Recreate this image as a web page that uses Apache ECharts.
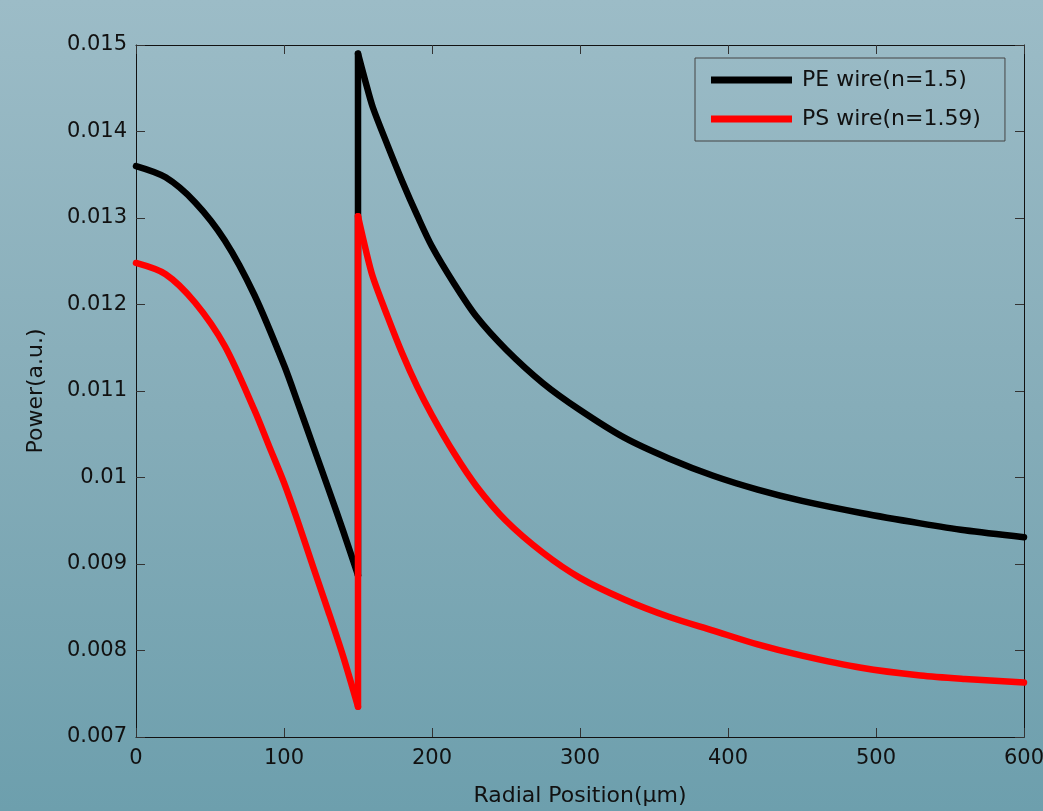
<!DOCTYPE html>
<html>
<head>
<meta charset="utf-8">
<script src="https://cdn.jsdelivr.net/npm/echarts@6/dist/echarts.min.js"></script>
<style>
html,body{margin:0;padding:0;}
#chart{width:1043px;height:811px;background:linear-gradient(to bottom,#9cbcc7 0%,#86adb9 50%,#6d9fad 100%);}
</style>
</head>
<body>
<div id="chart"></div>
<script>
// ---- data ----
const seriesNames = ['PE wire(n=1.5)', 'PS wire(n=1.59)'];
const xTicks = [0, 100, 200, 300, 400, 500, 600];
const yTicks = [0.007, 0.008, 0.009, 0.01, 0.011, 0.012, 0.013, 0.014, 0.015];

const peX = [0,20,40,60,80,100,110,120,130,140,150, 150,155,160,170,180,190,200,215,230,250,275,300,330,360,390,420,450,490,530,560,600];
const peY = [0.01360,0.01347,0.01318,0.01274,0.01211,0.01130,0.01083,0.01035,0.00987,0.00938,0.00887, 0.01490,0.01458,0.01428,0.01384,0.01342,0.01303,0.01267,0.01224,0.01186,0.01148,0.01109,0.01078,0.01046,0.01022,0.01002,0.00986,0.00973,0.00959,0.00947,0.00939,0.00931];

const psX = [0,20,40,60,80,90,100,110,120,130,140,150, 150,155,160,170,180,190,200,215,230,250,275,300,330,360,390,420,450,490,530,560,600];
const psY = [0.01248,0.01235,0.01202,0.01152,0.01078,0.01036,0.00994,0.00946,0.00895,0.00845,0.00793,0.00735, 0.01302,0.01265,0.01232,0.01186,0.01143,0.01105,0.01072,0.01028,0.00990,0.00950,0.00913,0.00884,0.00859,0.00839,0.00823,0.00807,0.00794,0.00780,0.00771,0.00767,0.00763];

// ---- build series: split each curve at the repeated x (the step) ----
function buildSeries(name, xs, ys, color) {
  let cut = 1;
  for (let i = 1; i < xs.length; i++) { if (xs[i] === xs[i - 1]) { cut = i; break; } }
  const pts = xs.map((x, i) => [x, ys[i]]);
  const left = pts.slice(0, cut);
  const jump = [pts[cut - 1], pts[cut]];
  const right = pts.slice(cut);
  const base = {
    name: name, type: 'line', symbol: 'none', showSymbol: false,
    lineStyle: { color: color, width: 6.5, cap: 'round', join: 'round' },
    itemStyle: { color: color },
    emphasis: { disabled: true }, animation: false, z: 3
  };
  return [
    Object.assign({}, base, { data: left, smooth: 0.3 }),
    Object.assign({}, base, { data: jump, smooth: false }),
    Object.assign({}, base, { data: right, smooth: 0.3 })
  ];
}

const FONT = 'DejaVu Sans';
const axisCommon = {
  axisLine: { show: true, onZero: false, lineStyle: { color: '#111', width: 1 } },
  axisTick: { show: true, inside: true, length: 9, lineStyle: { color: '#333', width: 1 } },
  splitLine: { show: false }
};

const chart = echarts.init(document.getElementById('chart'), null, { renderer: 'canvas' });
chart.setOption({
  backgroundColor: 'transparent',
  animation: false,
  grid: { left: 136, right: 19, top: 45, bottom: 74, containLabel: false, outerBoundsMode: 'none' },
  legend: {
    data: seriesNames,
    orient: 'vertical',
    left: 695, top: 58,
    padding: [10, 24, 10, 16],
    itemGap: 15,
    itemWidth: 81, itemHeight: 7,
    icon: 'rect',
    backgroundColor: 'transparent',
    borderColor: '#444', borderWidth: 1, borderRadius: 0,
    textStyle: { fontFamily: FONT, fontSize: 22, color: '#111', lineHeight: 24, padding: [0, 0, 0, 5] },
    selectedMode: false
  },
  xAxis: [
    Object.assign({}, axisCommon, {
      type: 'value', min: 0, max: 600, interval: 100, position: 'bottom',
      name: 'Radial Position(\u03bcm)', nameLocation: 'middle', nameGap: 48,
      nameTextStyle: { fontFamily: FONT, fontSize: 22, color: '#111' },
      axisLabel: { show: true, margin: 11, fontFamily: FONT, fontSize: 21, color: '#111',
        formatter: v => (xTicks.indexOf(v) >= 0 ? String(v) : '') }
    }),
    Object.assign({}, axisCommon, {
      type: 'value', min: 0, max: 600, interval: 100, position: 'top',
      axisLabel: { show: false }
    })
  ],
  yAxis: [
    Object.assign({}, axisCommon, {
      type: 'value', min: 0.007, max: 0.015, interval: 0.001, position: 'left',
      name: 'Power(a.u.)', nameLocation: 'middle', nameGap: 89, nameRotate: 90,
      nameTextStyle: { fontFamily: FONT, fontSize: 22, color: '#111' },
      axisLabel: { show: true, margin: 9, fontFamily: FONT, fontSize: 21, color: '#111',
        formatter: v => { const t = yTicks.find(y => Math.abs(y - v) < 1e-9); return t === undefined ? '' : String(+t.toFixed(3)); } }
    }),
    Object.assign({}, axisCommon, {
      type: 'value', min: 0.007, max: 0.015, interval: 0.001, position: 'right',
      axisLabel: { show: false }
    })
  ],
  series: [].concat(
    buildSeries(seriesNames[0], peX, peY, '#000000'),
    buildSeries(seriesNames[1], psX, psY, '#ff0000')
  )
});
</script>
</body>
</html>
